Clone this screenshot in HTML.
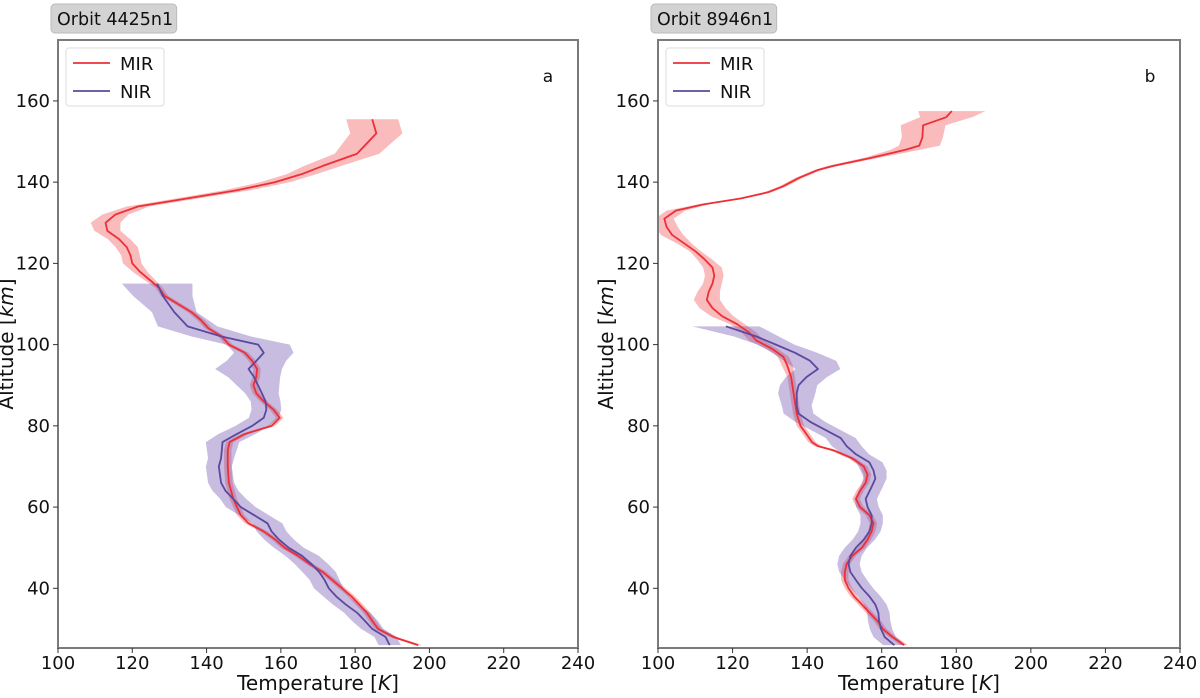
<!DOCTYPE html>
<html><head><meta charset="utf-8"><style>
body{margin:0;background:#fff;font-family:"DejaVu Sans","Liberation Sans",sans-serif;}
svg text{font-family:"DejaVu Sans","Liberation Sans",sans-serif;}
</style></head><body>
<svg id="chart" width="1200" height="694" xmlns="http://www.w3.org/2000/svg"></svg>
<script>
// Panel a
const aMirAlt=[155.5,152,147,144,142,140,138,136,134,132,130,128,126,124,122,120,118,116,114,112,110,108,106,104,102,100,98,96,94,92,90,88,86,84,82,80,78,76,74,70,66,62,58,56,54,52,50,48,46,44,42,40,38,36,34,32,30,28,26];
const aMirT=[184.6,185.7,180.5,171.3,165.7,158.5,148.2,134.9,121.5,115.4,112.8,113.3,116.4,118.5,119.5,120,122,124.6,127.2,128.7,132.3,135.9,138.5,140.5,144.1,146,150.3,152.3,153.6,153.4,152.6,153.4,155.4,158,159.7,157.5,150.3,146.2,145.7,145.7,146,147.2,149.2,151.3,155.4,158.5,161,164.6,167.7,171.3,173.9,176.5,179,181.1,183.1,184.6,186.2,190.3,197];
const aMirErr=[7,7,6,5,4,4,3.5,3,3,3.5,4,3.5,3,3,2.5,2.5,2,1.5,1,1,1,1,1,1,1,1,1,1,1,1,1,1,1,1,1,1,1,1,1,1,1,1,1,1,1,1,1,1,1,1,1,1,1,1,1,1,1,1,1];
const aNirAlt=[115,112,108,104.5,102,100,98,96,94,92,88,86,84,82,80,78,76,72,70,66,64,62,60,58,56,54,52,50,48,46,44,42,40,38,36,34,32,30,28,26];
const aNirT=[126.7,128.2,131.3,134.9,144,153.9,155.4,153.4,151.3,152.8,154.9,155.9,156.1,155.4,152.3,148.2,144.3,143.9,143.3,143.9,145.1,147.2,149.2,152.8,156.4,157.5,159.5,162.1,165.7,168.2,170.3,171.8,172.9,174.9,177.5,180.5,182.6,184.6,188.2,189.3];
const aNirErr=[9.5,8,6,8,8,8.5,8,8,9,7,4.5,4,4,4,4.5,5,4.5,3.5,3.5,3.5,3.5,3.5,4,4,4,4,4,4,4.5,4.5,4.5,4,4,3.5,3.5,3.5,3.5,3,3,3];
// Panel b
const bMirAlt=[157.5,156,154,151,149,148,146,144,143,141,139,137.5,136,134.5,133,131,129,127,125,123,121,119,117,115,113,111,109,107,105,103,101,99,97,95,92,89,86,83,80,78,76,75,74,72,70,68,66,64,62,60,58,56,54,52,50,48,46,44,42,40,38,36,34,32,30,28,26];
const bMirT=[178.8,177.3,171.1,170.9,170.1,166.5,157.3,147,142.9,137.7,133.6,129.5,122.3,112,104.8,101.7,102.3,103.8,106.9,110,112.5,114.6,115.1,114.6,113.6,113.1,114.6,117.2,121.3,124.4,126.4,130.5,133.6,134.6,135.7,136.2,136.7,137.2,138.2,139.8,141.3,142.9,147,152.1,155.2,156.2,155.7,154.2,153.1,154.2,156.7,157.8,157.3,156.2,154.7,152.1,150.6,150.1,150.1,151.1,152.6,154.7,156.7,158.8,160.3,162.9,166];
const bMirErr=[9,7,6,5.5,5.5,4,2,1.5,1,1,1,1,1,1.5,2.5,2.5,3,3,2,1.5,2,2.5,2.5,2.5,3,3.5,3.5,3,2,2,2,1.5,1.5,1.5,1,1,1,1,1,1,1,1,1,1,1,1,1,1,1,1,1,1,1,1,1,1,1,1,1,1,1,1,1,1,1,1,1];
const bNirAlt=[104.5,102,100,98,96,94,92,90,88,85,83,81,79,77,75,73,71,69,67,65,62,60,58,56,54,52,50,48,46,44,42,40,38,36,34,32,30,28,26];
const bNirT=[118.2,126.4,131.6,136.7,140.8,142.9,139.8,137.7,137.2,137.2,137.7,140.8,144.9,149,150.6,153.1,156.7,157.8,158.3,157.3,155.7,156.2,157.3,157.3,156.7,155.2,153.1,151.6,151.1,151.6,153.1,154.7,156.7,158.3,159.1,159.3,159.8,160.8,163.4];
const bNirErr=[9,6,5,6,7,6,5.5,5,5,4,4,4,4,4,4,3.5,3.5,3.5,3,3,3,3,3,3,3,3,3,3,3,3,3,3,3,3,3,3,3,3,3];
const xTicks=[100,120,140,160,180,200,220,240];
const yTicks=[40,60,80,100,120,140,160];

const NS="http://www.w3.org/2000/svg";
const svg=document.getElementById('chart');
function mk(tag,attrs,parent){const e=document.createElementNS(NS,tag);for(const k in attrs)e.setAttribute(k,attrs[k]);(parent||svg).appendChild(e);return e;}
const T0=100,T1=240,A0=25.3,A1=175;
function drawPanel(L,R,top,bot,title,letter,mAlt,mT,mE,nAlt,nT,nE,id){
  const sx=t=>L+(t-T0)/(T1-T0)*(R-L);
  const sy=a=>bot-(a-A0)/(A1-A0)*(bot-top);
  const g=mk('g',{});
  
  
  const cp=mk('clipPath',{id:'cp'+id},g);mk('rect',{x:L,y:top,width:R-L,height:bot-top},cp);
  const inner=mk('g',{'clip-path':'url(#cp'+id+')'},g);
  function band(alt,t,e,fill,name){
    let p=alt.map((a,i)=>sx(t[i]-e[i])+','+sy(a));
    let q=alt.map((a,i)=>sx(t[i]+e[i])+','+sy(a)).reverse();
    const el=mk('polygon',{points:p.concat(q).join(' '),fill:fill,stroke:'none'},inner);
    
    
  }
  function line(alt,t,col,name){
    const el=mk('polyline',{points:alt.map((a,i)=>sx(t[i])+','+sy(a)).join(' '),fill:'none',stroke:col,'stroke-width':1.8,'stroke-linejoin':'round'},inner);
    
    
  }
  band(mAlt,mT,mE,'rgba(238,60,60,0.35)','mir-uncertainty-band');
  band(nAlt,nT,nE,'rgba(110,80,175,0.38)','nir-uncertainty-band');
  line(mAlt,mT,'#ee2f37','mir-line');
  line(nAlt,nT,'#5a4a9e','nir-line');
  const fr=mk('rect',{x:L,y:top,width:R-L,height:bot-top,fill:'none',stroke:'#7a7a7a','stroke-width':2},g);
  
  
  xTicks.forEach(t=>{
    mk('line',{x1:sx(t),x2:sx(t),y1:bot,y2:bot+5,stroke:'#333'},g);
    const tx=mk('text',{x:sx(t),y:bot+21,'text-anchor':'middle','font-size':18,fill:'#111'},g);
    tx.textContent=t;
    
    
  });
  yTicks.forEach(a=>{
    mk('line',{x1:L-5,x2:L,y1:sy(a),y2:sy(a),stroke:'#333'},g);
    const tx=mk('text',{x:L-8,y:sy(a)+6,'text-anchor':'end','font-size':18,fill:'#111'},g);
    tx.textContent=a;
    
    
  });
  const xt=mk('text',{x:(L+R)/2,y:bot+42,'text-anchor':'middle','font-size':20,fill:'#111'},g);
  xt.innerHTML='Temperature [<tspan font-style="italic">K</tspan>]';
  
  
  const yt=mk('text',{x:0,y:0,'text-anchor':'middle','font-size':20,fill:'#111',transform:`translate(${L-45},${(top+bot)/2}) rotate(-90)`},g);
  yt.innerHTML='Altitude [<tspan font-style="italic">km</tspan>]';
  
  
  const tb=mk('rect',{x:L-7,y:4,width:title.length*9.3+14,height:29,rx:4,fill:'#d3d3d3',stroke:'#bbb'},g);
  
  
  const tt=mk('text',{x:L-1,y:25,'font-size':17.5,fill:'#111'},g);
  tt.textContent=title;
  
  
  const lg=mk('rect',{x:L+8,y:top+8,width:98,height:58,rx:3,fill:'#fff',stroke:'#ddd'},g);
  
  
  [['MIR','#ee2f37'],['NIR','#5a4a9e']].forEach((d,i)=>{
    const y=top+23+i*28;
    const ln=mk('line',{x1:L+15,x2:L+52,y1:y,y2:y,stroke:d[1],'stroke-width':1.8},g);
    
    
    const t=mk('text',{x:L+62,y:y+7,'font-size':18,fill:'#111'},g);
    t.textContent=d[0];
    
    
  });
  const lt=mk('text',{x:R-30,y:top+42,'font-size':17,fill:'#111','text-anchor':'middle'},g);
  lt.textContent=letter;
  
  
}
drawPanel(58,578,40,648,'Orbit 4425n1','a',aMirAlt,aMirT,aMirErr,aNirAlt,aNirT,aNirErr,'a');
drawPanel(658,1180,40,648,'Orbit 8946n1','b',bMirAlt,bMirT,bMirErr,bNirAlt,bNirT,bNirErr,'b');
</script>
</body></html>
